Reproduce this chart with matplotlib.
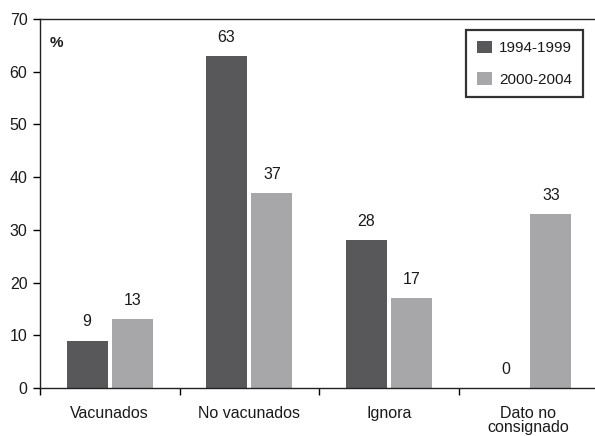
import numpy as np
import matplotlib
matplotlib.use('Agg')
from matplotlib import pyplot as plt

plt.rcParams['font.family'] = ['Liberation Sans', 'DejaVu Sans']

# data
categories = ['Vacunados', 'No vacunados', 'Ignora', 'Dato no\nconsignado']
periods = ['1994-1999', '2000-2004']
values_9499 = [9, 63, 28, 0]
values_0004 = [13, 37, 17, 33]
colors = ['#58585a', '#a7a7aa']

fig = plt.figure(figsize=(5.95, 4.36), dpi=100)
ax = fig.add_axes([40 / 595, 48 / 436, 558 / 595, 369 / 436])

x = np.arange(len(categories)) + 0.5
w = 0.294
off = 0.1625

for vals, dx, c, lab in [(values_9499, -off, colors[0], periods[0]),
                         (values_0004, off, colors[1], periods[1])]:
    bars = ax.bar(x + dx, vals, width=w, color=c, label=lab)
    for b, v in zip(bars, vals):
        ax.annotate(str(v), (b.get_x() + b.get_width() / 2, v),
                    xytext=(0, 8), textcoords='offset points',
                    ha='center', va='bottom', fontsize=11.5, color='#1a1a1a')

ax.set_xlim(0, 4)
ax.set_ylim(0, 70)
ax.set_yticks(range(0, 71, 10))

# boundaries as major ticks, names on minor ticks
ax.set_xticks(range(0, 5))
ax.set_xticklabels([])
ax.set_xticks(x, minor=True)
ax.set_xticklabels(categories, minor=True, linespacing=0.9)
ax.tick_params(axis='x', which='minor', length=0, pad=13, labelsize=11.5,
               labelcolor='#1a1a1a')
ax.tick_params(axis='x', which='major', length=5, width=1, direction='out')
ax.tick_params(axis='y', length=5, width=1, pad=4, labelsize=11.5,
               labelcolor='#1a1a1a')

ax.spines['right'].set_visible(False)
for s in ['top', 'left', 'bottom']:
    ax.spines[s].set_linewidth(1.0)
    ax.spines[s].set_color('#222222')

ax.text(10 / 558, 1 - 24 / 369, '%', transform=ax.transAxes,
        fontsize=11, fontweight='bold', va='center', ha='left', color='#1a1a1a')

leg = ax.legend(loc='upper right', bbox_to_anchor=(583 / 595, 1 - 30 / 436),
                bbox_transform=fig.transFigure, borderaxespad=0,
                fancybox=False, fontsize=11, handlelength=1.0, handleheight=0.9,
                handletextpad=0.45, labelspacing=1.1, borderpad=0.7)
leg.get_frame().set_edgecolor('black')
leg.get_frame().set_linewidth(1.6)
for t in leg.get_texts():
    t.set_color('#1a1a1a')

fig.savefig('out.png', dpi=100)
